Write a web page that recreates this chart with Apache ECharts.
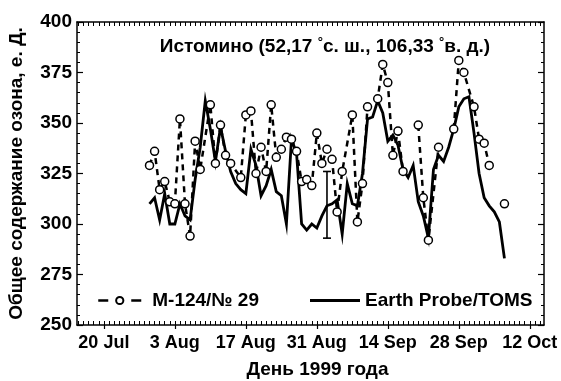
<!DOCTYPE html>
<html>
<head>
<meta charset="utf-8">
<script src="https://cdn.jsdelivr.net/npm/echarts@6/dist/echarts.min.js"></script>
<style>
  html, body { margin: 0; padding: 0; background: #fff; }
  #chart { width: 561px; height: 381px; }
</style>
</head>
<body>
<div id="chart"></div>
<script>
// day of year 1999 (20 Jul = 201)
const tickDays = [201, 215, 229, 243, 257, 271, 285];
const tickLabels = ["20 Jul", "3 Aug", "17 Aug", "31 Aug", "14 Sep", "28 Sep", "12 Oct"];

const m124Days = [210, 211, 212, 213, 214, 215, 216, 217, 218, 219, 220, 222, 223, 224, 225, 226,
  228, 229, 230, 231, 232, 233, 234, 235, 236, 237, 238, 239, 240, 241, 242, 243, 244, 245, 246,
  247, 248, 250, 251, 252, 253, 255, 256, 257, 258, 259, 260, 263, 264, 265, 267, 270, 271, 272,
  274, 275, 276, 277, 280];
const m124Ozone = [329, 336, 317, 321, 311, 310, 352, 310, 294, 341, 327, 359, 330, 349, 334, 330,
  323, 354, 356, 325, 338, 326, 359, 333, 337, 343, 342, 336, 321, 322, 319, 345, 330, 337, 332,
  306, 326, 354, 301, 320, 358, 362, 379, 370, 334, 346, 326, 349, 313, 292, 338, 347, 381, 375,
  358, 342, 340, 329, 310];

const tomsDays = [210, 211, 212, 213, 214, 215, 216, 217, 218, 219, 220, 221, 222, 223, 224, 225,
  226, 227, 228, 229, 230, 231, 232, 233, 234, 235, 236, 237, 238, 239, 240, 241, 242, 243, 244,
  245, 246, 247, 248, 249, 250, 251, 252, 253, 254, 255, 256, 257, 258, 259, 260, 261, 262, 263,
  264, 265, 266, 267, 268, 269, 270, 271, 272, 273, 274, 275, 276, 277, 278, 279, 280];
const tomsOzone = [310, 313, 302, 315, 300, 300, 310, 304, 302, 322, 338, 361, 347, 331, 348, 336,
  326, 320, 317, 315, 337, 329, 314, 319, 327, 316, 314, 300, 342, 335, 300, 297, 300, 298, 304,
  309, 310, 312, 295, 320, 310, 309, 325, 352, 353, 361, 355, 341, 344, 339, 327, 323, 329, 311,
  304, 293, 327, 334, 331, 338, 347, 358, 362, 363, 345, 325, 313, 309, 306, 301, 283];

// error bar: day, low, high
const errorBars = [[245, 293, 326]];

const FONT = "'Liberation Sans', Arial, sans-serif";
const X_MIN = 195.7, X_MAX = 287.8;

// M-124 line breaks where there are gaps of 2+ days
const m124Data = [];
m124Days.forEach((d, i) => {
  if (i > 0 && d - m124Days[i - 1] > 2) m124Data.push([d - 1, "-"]);
  m124Data.push([d, m124Ozone[i]]);
});

// one minor tick per day
const allDays = [];
for (let d = Math.ceil(X_MIN); d <= X_MAX; d++) allDays.push(d);

const chart = echarts.init(document.getElementById("chart"));

const baseX = {
  type: "value", min: X_MIN, max: X_MAX, gridIndex: 0,
  splitLine: { show: false },
};
const tickLine = { color: "#000", width: 1.2 };

chart.setOption({
  animation: false,
  textStyle: { fontFamily: FONT, fontWeight: "bold", color: "#000" },
  grid: { left: 77, right: 17, top: 22, bottom: 56, outerBoundsMode: "none", containLabel: false },
  title: {
    text: "{a|Истомино (52,17 }{s|°}{a|с. ш., 106,33 }{s|°}{a|в. д.)}",
    left: 320, top: 31, textAlign: "center",
    textStyle: {
      rich: {
        a: { fontFamily: FONT, fontWeight: "bold", fontSize: 19, color: "#000" },
        s: { fontFamily: FONT, fontWeight: "bold", fontSize: 13, color: "#000", padding: [0, 0, 9, 0] },
      },
    },
  },
  legend: [
    {
      data: ["M-124/№ 29"], left: 97, top: 291, padding: 0, itemWidth: 43, itemHeight: 9,
      lineStyle: { type: [10, 23], width: 2.5 },
      textStyle: { fontFamily: FONT, fontWeight: "bold", fontSize: 19, color: "#000", padding: [0, 0, 0, 6] },
    },
    {
      data: [{ name: "Earth Probe/TOMS", icon: "rect" }], left: 310, top: 291, padding: 0,
      itemWidth: 50, itemHeight: 3,
      itemStyle: { color: "#000" },
      textStyle: { fontFamily: FONT, fontWeight: "bold", fontSize: 19, color: "#000" },
    },
  ],
  xAxis: [
    Object.assign({}, baseX, {
      position: "bottom",
      name: "День 1999 года", nameLocation: "middle", nameGap: 35,
      nameTextStyle: { fontFamily: FONT, fontWeight: "bold", fontSize: 19, color: "#000", padding: [0, 0, 0, 14] },
      axisLine: { show: true, onZero: false, lineStyle: { color: "#000", width: 1.5 } },
      axisTick: { show: true, customValues: tickDays, inside: false, length: 4, lineStyle: tickLine },
      axisLabel: {
        customValues: tickDays, margin: 9, fontSize: 18, fontWeight: "bold", color: "#000", fontFamily: FONT,
        formatter: (v) => tickLabels[tickDays.indexOf(Math.round(v))] || "",
      },
    }),
    Object.assign({}, baseX, {
      position: "bottom",
      axisLine: { show: false, onZero: false },
      axisTick: { show: true, customValues: allDays, inside: true, length: 4, lineStyle: { color: "#000", width: 1 } },
      axisLabel: { show: false },
    }),
    Object.assign({}, baseX, {
      position: "top",
      axisLine: { show: true, onZero: false, lineStyle: { color: "#000", width: 1.5 } },
      axisTick: { show: true, customValues: allDays, inside: true, length: 4, lineStyle: { color: "#000", width: 1 } },
      axisLabel: { show: false },
    }),
  ],
  yAxis: [
    {
      type: "value", position: "left", min: 250, max: 400, interval: 25,
      name: "Общее содержание озона, е. Д.", nameLocation: "middle", nameGap: 51,
      nameTextStyle: { fontFamily: FONT, fontWeight: "bold", fontSize: 19, color: "#000" },
      axisLine: { show: true, onZero: false, lineStyle: { color: "#000", width: 1.5 } },
      axisTick: { show: true, inside: true, length: 6, lineStyle: tickLine },
      minorTick: { show: true, splitNumber: 5, length: 3, lineStyle: { color: "#000", width: 1 } },
      axisLabel: { margin: 5, fontSize: 19, fontWeight: "bold", color: "#000", fontFamily: FONT },
      splitLine: { show: false },
    },
    {
      type: "value", position: "right", min: 250, max: 400, interval: 25,
      axisLine: { show: true, onZero: false, lineStyle: { color: "#000", width: 1.5 } },
      axisTick: { show: true, inside: true, length: 6, lineStyle: tickLine },
      minorTick: { show: true, splitNumber: 5, length: 3, lineStyle: { color: "#000", width: 1 } },
      axisLabel: { show: false },
      splitLine: { show: false },
    },
  ],
  series: [
    {
      name: "Earth Probe/TOMS", type: "line", xAxisIndex: 0, yAxisIndex: 0,
      data: tomsDays.map((d, i) => [d, tomsOzone[i]]),
      symbol: "none", color: "#000",
      lineStyle: { color: "#000", width: 2.8, join: "miter" },
      z: 2,
    },
    {
      name: "M-124/№ 29", type: "line", xAxisIndex: 0, yAxisIndex: 0,
      data: m124Data, connectNulls: false,
      symbol: "circle", symbolSize: 8, color: "#000",
      itemStyle: { color: "#fff", borderColor: "#000", borderWidth: 1.5 },
      lineStyle: { color: "#000", width: 2.5, type: [6, 5] },
      z: 3,
    },
    {
      type: "custom", xAxisIndex: 0, yAxisIndex: 0, silent: true, z: 4,
      data: errorBars,
      renderItem: (params, api) => {
        const x = api.value(0);
        const lo = api.coord([x, api.value(1)]);
        const hi = api.coord([x, api.value(2)]);
        const w = 4;
        const st = { stroke: "#000", lineWidth: 1.6 };
        return {
          type: "group",
          children: [
            { type: "line", shape: { x1: lo[0], y1: lo[1], x2: hi[0], y2: hi[1] }, style: st },
            { type: "line", shape: { x1: lo[0] - w, y1: lo[1], x2: lo[0] + w, y2: lo[1] }, style: st },
            { type: "line", shape: { x1: hi[0] - w, y1: hi[1], x2: hi[0] + w, y2: hi[1] }, style: st },
          ],
        };
      },
    },
  ],
});
</script>
</body>
</html>
